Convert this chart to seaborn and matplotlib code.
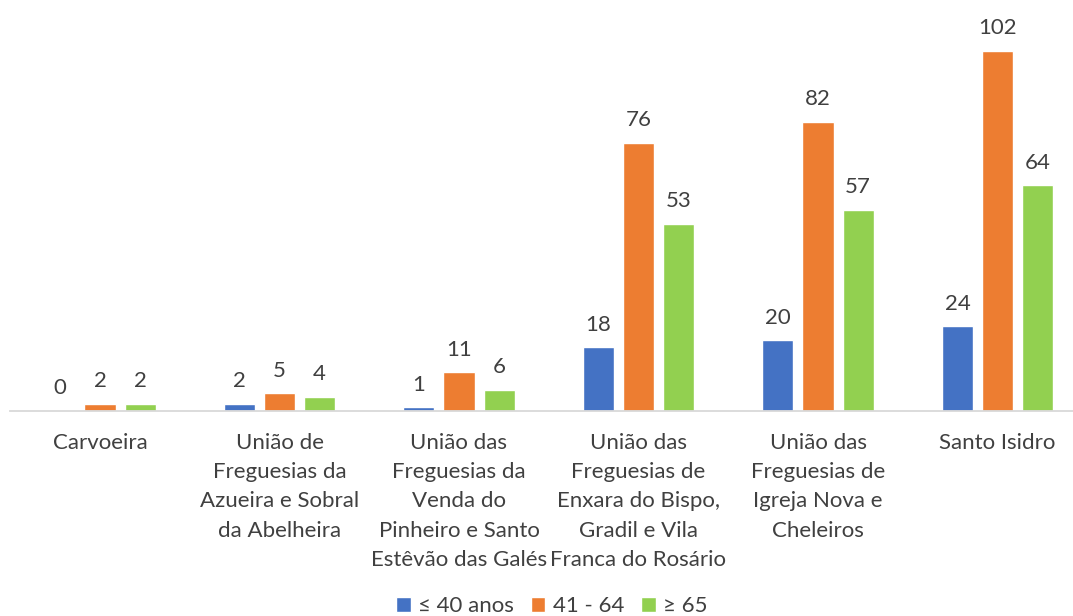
import matplotlib
matplotlib.use("Agg")
import matplotlib.pyplot as plt
import seaborn as sns
import pandas as pd

categories = [
    "Carvoeira",
    "União de\nFreguesias da\nAzueira e Sobral\nda Abelheira",
    "União das\nFreguesias da\nVenda do\nPinheiro e Santo\nEstêvão das Galés",
    "União das\nFreguesias de\nEnxara do Bispo,\nGradil e Vila\nFranca do Rosário",
    "União das\nFreguesias de\nIgreja Nova e\nCheleiros",
    "Santo Isidro",
]
series_names = ["≤ 40 anos", "41 - 64", "≥ 65"]
vals_40 = [0, 2, 1, 18, 20, 24]
vals_41_64 = [2, 5, 11, 76, 82, 102]
vals_65 = [2, 4, 6, 53, 57, 64]
colors = ["#4472C4", "#ED7D31", "#92D050"]

rows = []
for name, vals in zip(series_names, [vals_40, vals_41_64, vals_65]):
    for c, v in zip(categories, vals):
        rows.append({"cat": c, "serie": name, "val": v})
df = pd.DataFrame(rows)

sns.set_theme(style="white")
plt.rcParams["font.family"] = ["Lato", "DejaVu Sans"]
txt = "#404040"

W, H = 1073, 616
fig = plt.figure(figsize=(W / 100, H / 100), dpi=100)
left = 10.25 / W
bottom = (H - 411) / H
top_px = 411 - 110 * (360 / 102)
ax = fig.add_axes([left, bottom, (W - 10.25) / W, (411 - top_px) / H])

sns.barplot(data=df, x="cat", y="val", hue="serie", palette=colors,
            order=categories, hue_order=series_names, width=0.67, gap=0.225,
            saturation=1, ax=ax, legend=True)

for cont in ax.containers:
    ax.bar_label(cont, padding=9, fontsize=16, color=txt)

ax.set_ylim(0, 110)
ax.set_xlim(-0.5, -0.5 + (W - 10.25) / 179.5)
ax.set_xlabel("")
ax.set_ylabel("")
ax.set_yticks([])
for s in ["left", "right", "top"]:
    ax.spines[s].set_visible(False)
ax.spines["bottom"].set_color("#D9D9D9")
ax.spines["bottom"].set_linewidth(1.3)
ax.tick_params(axis="x", length=0, pad=16, labelsize=16, labelcolor=txt)
for lab in ax.get_xticklabels():
    lab.set_linespacing(1.57)
    lab.set_verticalalignment("top")

handles, labels = ax.get_legend_handles_labels()
ax.legend(handles, labels, loc="center", bbox_to_anchor=(552 / W, 1 - 606 / H),
          bbox_transform=fig.transFigure, ncol=3, frameon=False, fontsize=16,
          handlelength=0.65, handleheight=0.65, handletextpad=0.35, columnspacing=0.75,
          labelcolor=txt)

fig.savefig("out.png", dpi=100)
